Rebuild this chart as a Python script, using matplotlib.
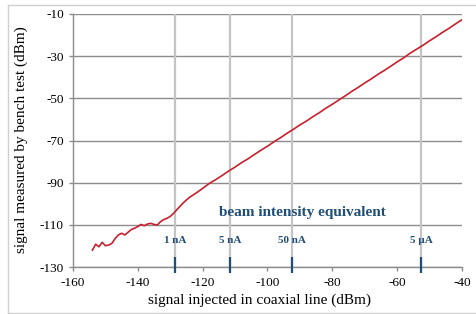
import matplotlib
matplotlib.use("Agg")
import matplotlib.pyplot as plt
from matplotlib.lines import Line2D

plt.rcParams['font.family'] = ['Liberation Serif', 'DejaVu Serif']

# measured curve (signal injected, signal measured), dBm
x_meas = [-154, -153, -152, -151, -150, -149, -148, -147, -146, -145, -144,
          -143, -142, -141, -140, -139, -138, -137, -136, -135, -134, -133,
          -132, -131, -130, -129, -128, -127, -126, -125,
          -124, -122, -120, -118, -116, -114, -112, -110, -108, -106,
          -104, -102, -100, -98, -96, -94, -92, -90, -88, -86, -84, -82, -80,
          -78, -76, -74, -72, -70, -68, -66, -64, -62, -60, -58, -56, -54,
          -52, -50, -48, -46, -44, -42, -40]
y_meas = [-122.0, -119.2, -120.4, -118.3, -119.9, -119.6, -118.8, -116.5,
          -114.8, -114.0, -114.8, -113.5, -112.2, -111.6, -110.8, -109.8,
          -110.4, -109.6, -109.3, -109.8, -110.1, -108.5, -107.5, -106.9,
          -106.0, -104.6, -102.9, -101.2, -99.6, -98.2,
          -96.9, -94.9, -92.7, -90.4, -88.6, -86.6, -84.5, -82.6,
          -80.5, -78.7, -76.6, -74.6, -72.7, -70.6, -68.7, -66.6, -64.7,
          -62.6, -60.8, -58.7, -56.8, -54.7, -52.8, -50.8, -48.8, -46.7,
          -44.8, -42.7, -40.8, -38.7, -36.8, -34.8, -32.7, -30.8, -28.6,
          -26.7, -24.8, -22.7, -20.8, -18.7, -16.8, -14.7, -12.7]

# beam intensity equivalents
beam_labels = ['1 nA', '5 nA', '50 nA', '5 µA']
beam_x = [-128.5, -111.5, -92.5, -52.5]

xticks = [-160, -140, -120, -100, -80, -60, -40]
yticks = [-130, -110, -90, -70, -50, -30, -10]

W, H = 476, 314
fig = plt.figure(figsize=(W / 100, H / 100), dpi=100)
ax = fig.add_axes([73 / W, 1 - 267 / H, (462 - 73) / W, (267 - 14) / H])

grid_h = '#8c8c8c'
grid_v = '#c4c4c4'
blue = '#1f4e79'
red = '#c8202c'

ax.set_xlim(-160, -40)
ax.set_ylim(-130, -10)
ax.set_xticks(xticks)
ax.set_yticks(yticks)
ax.set_xticklabels([str(v) for v in xticks])
ax.set_yticklabels([str(v) for v in yticks])

for y in yticks:
    ax.axhline(y, color=grid_h, lw=1.0, zorder=1)
ax.vlines(beam_x, -130, -10, color=grid_v, lw=1.6, zorder=1)

ax.plot(x_meas, y_meas, color=red, lw=1.2, zorder=3)

ax.vlines(beam_x, -132.8, -125.3, color=blue, lw=1.6, zorder=4, clip_on=False)
for lab, bx in zip(beam_labels, beam_x):
    ax.text(bx, -117.2, lab, ha='center', va='center', color=blue,
            fontsize=8, fontweight='bold', zorder=5)
ax.text(-89.3, -104.0, 'beam intensity equivalent', ha='center', va='center',
        color=blue, fontsize=11, fontweight='bold', zorder=5)

for s in ['top', 'right']:
    ax.spines[s].set_visible(False)
for s in ['left', 'bottom']:
    ax.spines[s].set_color(grid_h)
    ax.spines[s].set_linewidth(1.0)
ax.tick_params(axis='both', direction='out', length=3, width=1, color=grid_h,
               labelsize=9.5, labelcolor='black')
ax.tick_params(axis='y', pad=3.5)
ax.tick_params(axis='x', pad=4)

fig.text(259 / W, 1 - 300 / H, 'signal injected in coaxial line (dBm)',
         ha='center', va='center', fontsize=11)
fig.text(21 / W, 1 - 140 / H, 'signal measured by bench test (dBm)',
         ha='center', va='center', fontsize=11, rotation=90)

border = '#d0d0d0'
x0, x1 = 8 / W, 1.0
yt, yb = 1 - 5 / H, 1 - 312.5 / H
for xs, ys in [([x0, x1], [yt, yt]), ([x0, x1], [yb, yb]), ([x0, x0], [yb, yt])]:
    fig.add_artist(Line2D(xs, ys, transform=fig.transFigure, color=border, lw=1.0))

fig.savefig('out.png', dpi=100)
